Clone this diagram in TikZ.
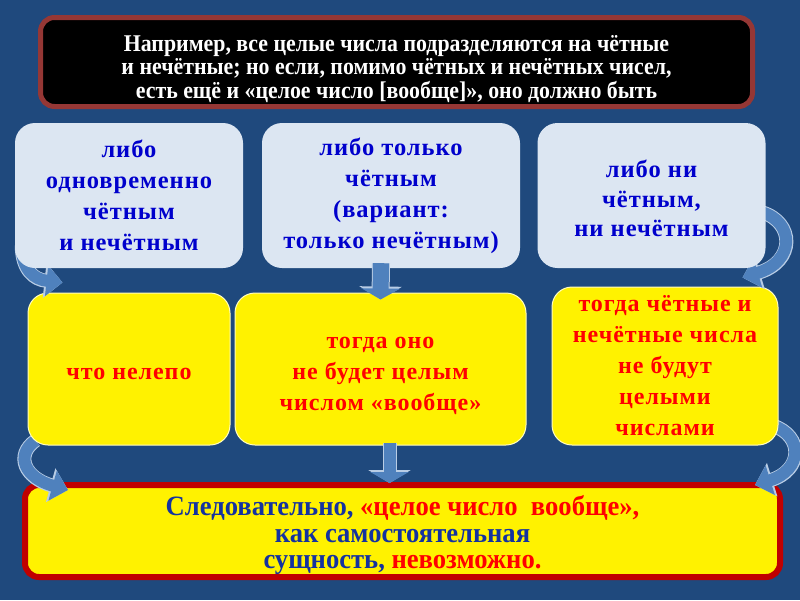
\documentclass[tikz,border=0pt]{standalone}
\usepackage{fontspec}
\setmainfont{Liberation Serif}
\newfontfamily\condfont[FakeStretch=0.91]{Liberation Serif}
\newfontfamily\botfont[FakeStretch=0.95]{Liberation Serif}
\newfontfamily\widefont[LetterSpace=4]{Liberation Serif}
\usetikzlibrary{arrows.meta}
\definecolor{bg}{RGB}{31,73,125}
\definecolor{lightbox}{RGB}{220,230,242}
\definecolor{topborder}{RGB}{149,55,53}
\definecolor{txtblue}{RGB}{0,0,204}
\definecolor{txtred}{RGB}{255,0,0}
\definecolor{darkblue}{RGB}{20,50,160}
\definecolor{botborder}{RGB}{192,0,0}
\definecolor{arrowfill}{RGB}{79,129,189}
\definecolor{arrowedge}{RGB}{185,205,229}
\pgfdeclarelayer{bgl}
\pgfdeclarelayer{lbot}
\pgfdeclarelayer{larrlow}
\pgfdeclarelayer{lyellow}
\pgfdeclarelayer{larrhigh}
\pgfsetlayers{bgl,lbot,larrlow,lyellow,larrhigh,main}
\tikzset{
  lbox/.style={rounded corners=20pt, fill=lightbox, inner sep=0pt, align=center,
    text=txtblue, font=\widefont\bfseries\fontsize{24.5}{31}\selectfont},
  ltext/.style={inner sep=0pt, align=center, text=txtblue, font=\widefont\bfseries\fontsize{24.5}{29.5}\selectfont},
  ybox/.style={rounded corners=20pt, fill=yellow, draw=white!75!yellow, line width=1pt,
    inner sep=0pt, align=center, text=txtred, font=\widefont\bfseries\fontsize{24}{31}\selectfont},
  ytext/.style={inner sep=0pt, align=center, text=txtred, font=\widefont\bfseries\fontsize{24}{31}\selectfont},
  topbox/.style={rounded corners=14pt, fill=black, draw=topborder, line width=5pt, inner sep=0pt},
  toptext/.style={inner sep=0pt, align=center, text=white, font=\condfont\bfseries\fontsize{24}{23.5}\selectfont},
  botbox/.style={rounded corners=14pt, fill=yellow, draw=botborder, line width=6pt, inner sep=0pt},
  bottext/.style={inner sep=0pt, align=center, text=darkblue, font=\botfont\bfseries\fontsize{28}{26.5}\selectfont},
  carrow/.style={draw=arrowfill, line width=12pt, -{Triangle[width=30pt,length=16pt]},
    preaction={draw=arrowedge, line width=14pt, -{Triangle[width=34pt,length=18pt]}}},
  sarrow/.style={draw=arrowfill, line width=#1, -{Triangle[width=38pt,length=11pt]},
    preaction={draw=arrowedge, line width=#1+2pt, -{Triangle[width=42pt,length=13pt]}}}
}
\begin{document}
\begin{tikzpicture}[x=1pt,y=-1pt]
\begin{pgfonlayer}{bgl}
\fill[bg] (0,0) rectangle (800,600);
\end{pgfonlayer}
\useasboundingbox (0,0) rectangle (800,600);

\node[topbox, minimum width=712pt, minimum height=89pt] (top) at (396.5,62) {};
\node[toptext] (topt) at ([shift={(0,7)}]top.center)
 {Например, все целые числа подразделяются на чётные\\
  и нечётные; но если, помимо чётных и нечётных чисел,\\
  есть ещё и «целое число [вообще]», оно должно быть};

\node[lbox, minimum width=228pt, minimum height=145pt] (b1) at (129,195.5)
 {либо\\ одновременно\\ чётным\\ и нечётным};
\node[lbox, minimum width=258pt, minimum height=145pt] (b2) at (391,195.5)
 {либо только\\ чётным\\ (вариант:\\ только нечётным)};
\node[lbox, minimum width=228pt, minimum height=145pt] (b3) at (651.5,195.5) {};
\node[ltext] (b3t) at ([shift={(0,3)}]b3.center)
 {либо ни\\ чётным,\\ ни нечётным};

\begin{pgfonlayer}{lyellow}
\node[ybox, minimum width=202pt, minimum height=152pt] (yA) at (129,369) {};
\node[ytext] (yAt) at ([shift={(0,5)}]yA.center) {что нелепо};
\node[ybox, minimum width=291pt, minimum height=152pt] (yB) at (380.5,369) {};
\node[ytext] (yBt) at ([shift={(0,7)}]yB.center)
 {тогда оно\\ не будет целым\\ числом «вообще»};
\node[ybox, minimum width=226pt, minimum height=158pt] (yC) at (665,366)
 {тогда чётные и\\ нечётные числа\\ не будут\\ целыми\\ числами};
\end{pgfonlayer}

\begin{pgfonlayer}{lbot}
\node[botbox, minimum width=755pt, minimum height=92pt] (bot) at (402.5,531) {};
\node[bottext] (bott) at ([shift={(0,4)}]bot.center)
 {Следовательно, \textcolor{txtred}{«целое число\ \ вообще»,}\\
  как самостоятельная\\
  сущность, \textcolor{txtred}{невозможно.}};
\end{pgfonlayer}

\begin{pgfonlayer}{larrhigh}
\draw[carrow] ([shift={(7,-23)}]b1.south west) .. controls +(0,25) and +(-28,-3) .. ([shift={(35,-10)}]yA.north west);
\draw[carrow] ([shift={(-4,-56)}]b3.south east) .. controls +(33,10) and +(53,-16) .. ([shift={(-36,-9)}]yC.north east);
\end{pgfonlayer}
\begin{pgfonlayer}{larrlow}
\draw[carrow] ([shift={(8,-5)}]yA.south west) .. controls +(-21,15) and +(-43,-12) .. ([shift={(46,8)}]bot.north west);
\draw[carrow] ([shift={(-6,-20)}]yC.south east) .. controls +(31,10) and +(48,-15) .. ([shift={(-28,3)}]bot.north east);
\end{pgfonlayer}

\draw[sarrow=16pt] ([shift={(-10,-5)}]b2.south) -- ([shift={(0,7)}]yB.north);
\draw[sarrow=12pt] ([shift={(9,-3)}]yB.south) -- ([shift={(-13,1)}]bot.north);
\end{tikzpicture}
\end{document}
